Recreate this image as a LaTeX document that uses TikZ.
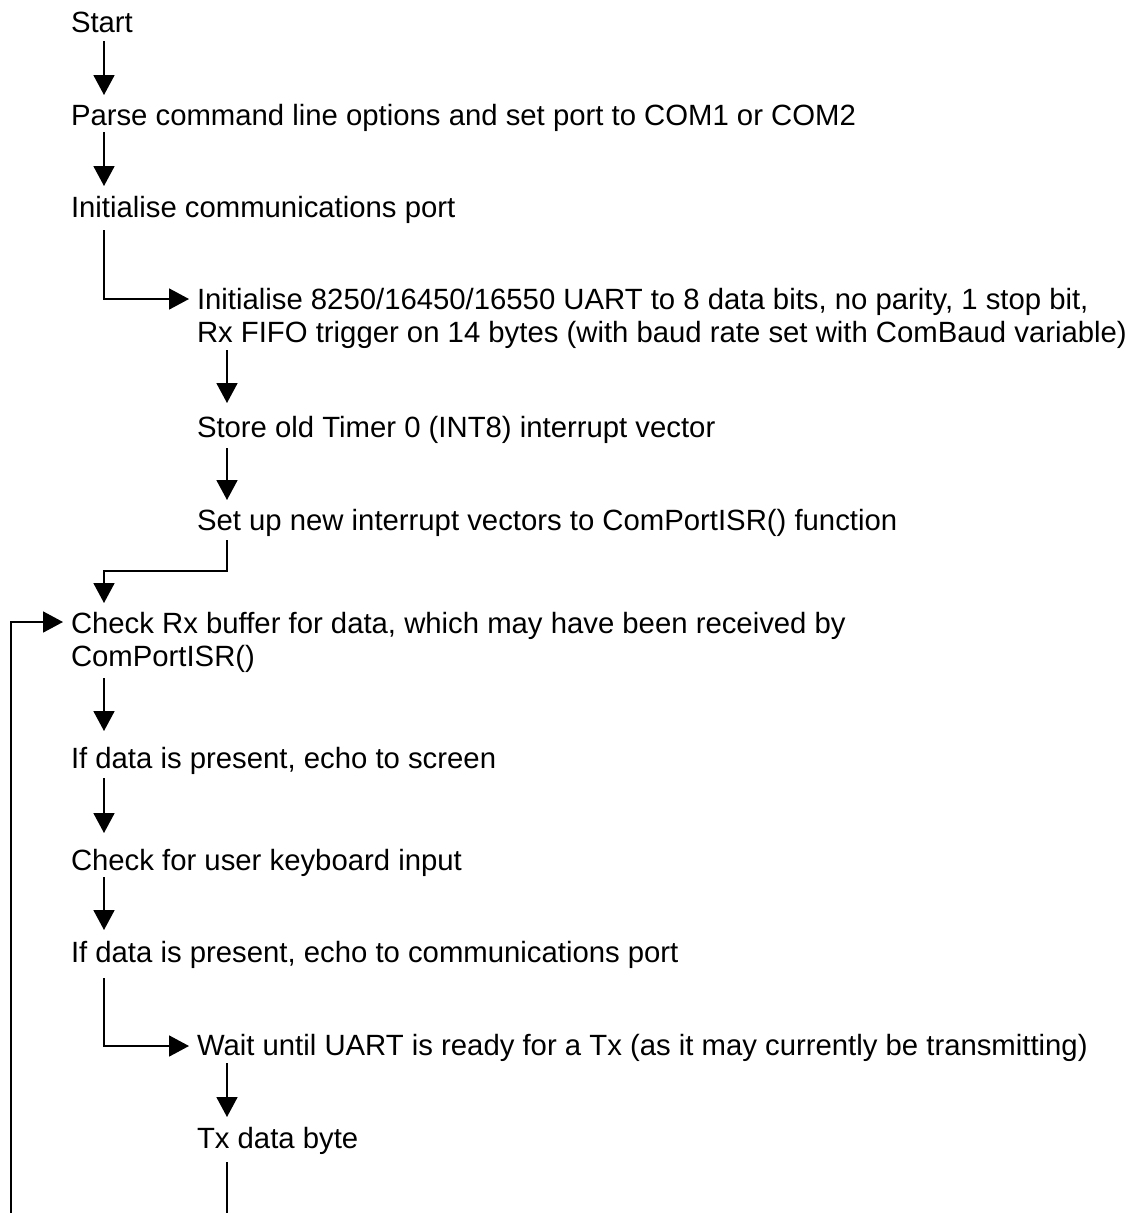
\documentclass[tikz,border=0pt]{standalone}
\usepackage{fontspec}
\setmainfont{Liberation Sans}
\usetikzlibrary{arrows.meta,calc}
\tikzset{
  lbl/.style={anchor=base west, inner sep=0pt, outer sep=0pt, font=\fontsize{29.3}{33}\selectfont},
  conn/.style={line width=1.8pt},
  arr/.style={conn, -{Triangle[length=20pt,width=21pt]}}
}
\newcommand{\twoline}[2]{\begin{tabular}[t]{@{}l@{}}#1\\#2\end{tabular}}
\begin{document}
\begin{tikzpicture}[x=1pt,y=-1pt]
\useasboundingbox (0,0) rectangle (1140,1213);
% main column
\node[lbl] (start) at (71,32) {Start};
\node[lbl] (parse) at (71,125) {Parse command line options and set port to COM1 or COM2};
\node[lbl] (comm) at (71,217) {Initialise communications port};
\node[lbl] (uart) at (197,309) {\twoline{Initialise 8250/16450/16550 UART to 8 data bits, no parity, 1 stop bit,}{Rx FIFO trigger on 14 bytes (with baud rate set with ComBaud variable)}};
\node[lbl] (store) at (197,437) {Store old Timer 0 (INT8) interrupt vector};
\node[lbl] (setup) at (197,530) {Set up new interrupt vectors to ComPortISR() function};
\node[lbl] (checkrx) at (71,633) {\twoline{Check Rx buffer for data, which may have been received by}{ComPortISR()}};
\node[lbl] (screen) at (71,768) {If data is present, echo to screen};
\node[lbl] (kbd) at (71,870) {Check for user keyboard input};
\node[lbl] (comm2) at (71,962) {If data is present, echo to communications port};
\node[lbl] (wait) at (197,1055) {Wait until UART is ready for a Tx (as it may currently be transmitting)};
\node[lbl] (tx) at (197,1148) {Tx data byte};
\coordinate (txend) at (227,1213);
\coordinate (loopend) at (11,1213);
% connectors
\draw[arr] ($(start.base west)+(33,9)$) -- ($(parse.base west)+(33,-30)$);
\draw[arr] ($(parse.base west)+(33,7)$) -- ($(comm.base west)+(33,-31)$);
\draw[arr] ($(comm.base west)+(33,13)$) |- ($(uart.base west)+(-8,-10)$);
\draw[arr] ($(uart.base west)+(30,41)$) -- ($(store.base west)+(30,-34)$);
\draw[arr] ($(store.base west)+(30,11)$) -- ($(setup.base west)+(30,-30)$);
\draw[arr] ($(setup.base west)+(30,10)$) -- ++(0,31) -| ($(checkrx.base west)+(33,-30)$);
\draw[arr] ($(checkrx.base west)+(33,45)$) -- ($(screen.base west)+(33,-37)$);
\draw[arr] ($(screen.base west)+(33,10)$) -- ($(kbd.base west)+(33,-37)$);
\draw[arr] ($(kbd.base west)+(33,7)$) -- ($(comm2.base west)+(33,-32)$);
\draw[arr] ($(comm2.base west)+(33,16)$) |- ($(wait.base west)+(-8,-9)$);
\draw[arr] ($(wait.base west)+(30,8)$) -- ($(tx.base west)+(30,-31)$);
\draw[conn] ($(tx.base west)+(30,14)$) -- (txend);
\draw[arr] (loopend) |- ($(checkrx.base west)+(-8,-11)$);
\end{tikzpicture}
\end{document}
